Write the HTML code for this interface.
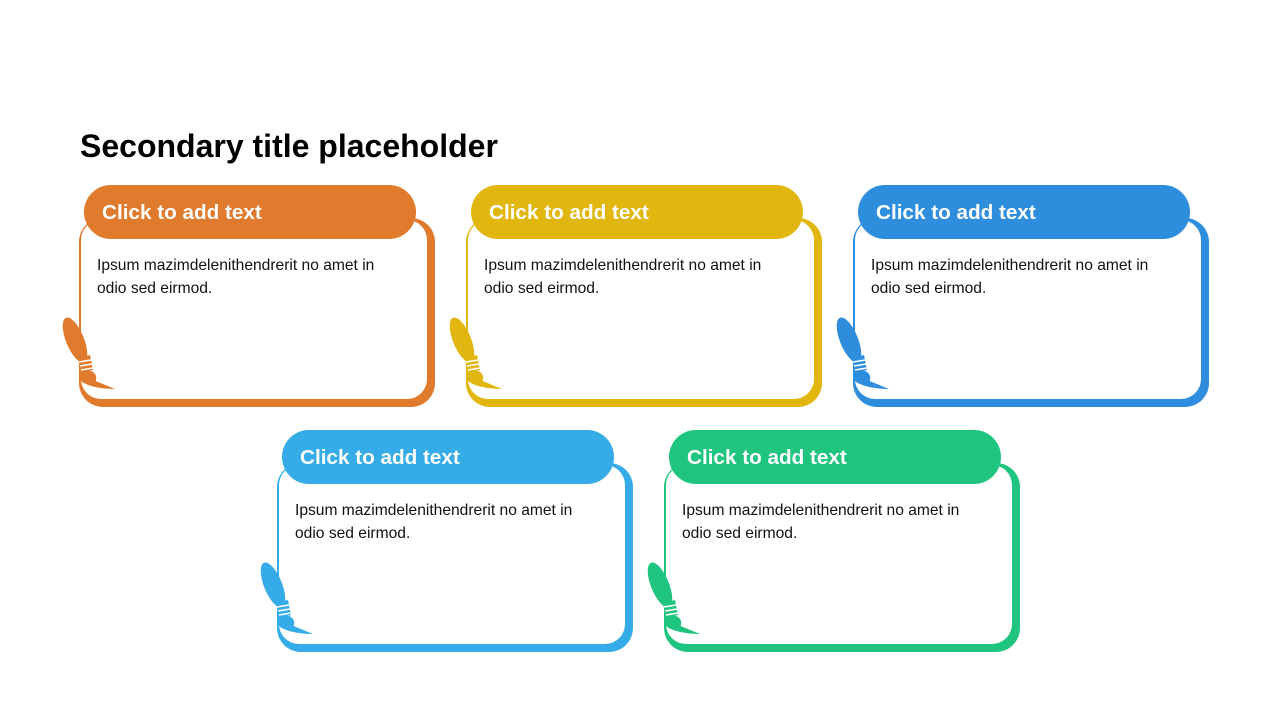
<!DOCTYPE html>
<html><head><style>
body{margin:0;width:1280px;height:720px;background:#fff;position:relative;font-family:"Liberation Sans",Arial,sans-serif;overflow:hidden}
h1{position:absolute;left:80px;top:128px;margin:0;font-size:32px;font-weight:bold;color:#000}
.card{position:absolute;width:356px;height:222px}
.outer{position:absolute;left:0;top:33px;width:356px;height:189px;border-radius:24px}
.inner{position:absolute;left:2px;top:35px;width:346px;height:179px;border-radius:20px;background:#fff}
.hdr{position:absolute;left:5px;top:0;width:332px;height:54px;border-radius:27px;color:#fff;font-weight:bold;font-size:20.7px;line-height:56px;box-sizing:border-box;padding-left:18px}
.body{position:absolute;left:18px;top:69px;font-size:15.6px;line-height:23px;color:#111}
svg{position:absolute;left:-20px;top:130px;overflow:visible}
</style></head><body>
<h1>Secondary title placeholder</h1>

<div class="card" style="left:79px;top:185px;color:#E07A2C">
<div class="outer" style="background:#E07A2C"></div><div class="inner"></div>
<div class="hdr" style="background:#E07A2C">Click to add text</div>
<div class="body">Ipsum mazimdelenithendrerit no amet in<br>odio sed eirmod.</div>
<svg width="60" height="80"><g fill="currentColor"><ellipse cx="16" cy="25" rx="9" ry="24" transform="rotate(-22 16 25)"/><path d="M19 43 L31 40 L34 55 L22 58Z"/><path d="M21 58 C28 54 35 55 37 61 C38 64 35 66 39 67 L56 74 C45 74 33 72 27 69 C21 67 19 62 21 58Z"/></g><g stroke="#fff" stroke-width="1.4"><line x1="20" y1="47" x2="32" y2="45"/><line x1="21" y1="51" x2="33" y2="49"/><line x1="22" y1="55" x2="34" y2="53"/></g></svg>
</div>

<div class="card" style="left:466px;top:185px;color:#E1B70F">
<div class="outer" style="background:#E1B70F"></div><div class="inner"></div>
<div class="hdr" style="background:#E1B70F">Click to add text</div>
<div class="body">Ipsum mazimdelenithendrerit no amet in<br>odio sed eirmod.</div>
<svg width="60" height="80"><g fill="currentColor"><ellipse cx="16" cy="25" rx="9" ry="24" transform="rotate(-22 16 25)"/><path d="M19 43 L31 40 L34 55 L22 58Z"/><path d="M21 58 C28 54 35 55 37 61 C38 64 35 66 39 67 L56 74 C45 74 33 72 27 69 C21 67 19 62 21 58Z"/></g><g stroke="#fff" stroke-width="1.4"><line x1="20" y1="47" x2="32" y2="45"/><line x1="21" y1="51" x2="33" y2="49"/><line x1="22" y1="55" x2="34" y2="53"/></g></svg>
</div>

<div class="card" style="left:853px;top:185px;color:#2E8EDD">
<div class="outer" style="background:#2E8EDD"></div><div class="inner"></div>
<div class="hdr" style="background:#2E8EDD">Click to add text</div>
<div class="body">Ipsum mazimdelenithendrerit no amet in<br>odio sed eirmod.</div>
<svg width="60" height="80"><g fill="currentColor"><ellipse cx="16" cy="25" rx="9" ry="24" transform="rotate(-22 16 25)"/><path d="M19 43 L31 40 L34 55 L22 58Z"/><path d="M21 58 C28 54 35 55 37 61 C38 64 35 66 39 67 L56 74 C45 74 33 72 27 69 C21 67 19 62 21 58Z"/></g><g stroke="#fff" stroke-width="1.4"><line x1="20" y1="47" x2="32" y2="45"/><line x1="21" y1="51" x2="33" y2="49"/><line x1="22" y1="55" x2="34" y2="53"/></g></svg>
</div>

<div class="card" style="left:277px;top:430px;color:#35ACE8">
<div class="outer" style="background:#35ACE8"></div><div class="inner"></div>
<div class="hdr" style="background:#35ACE8">Click to add text</div>
<div class="body">Ipsum mazimdelenithendrerit no amet in<br>odio sed eirmod.</div>
<svg width="60" height="80"><g fill="currentColor"><ellipse cx="16" cy="25" rx="9" ry="24" transform="rotate(-22 16 25)"/><path d="M19 43 L31 40 L34 55 L22 58Z"/><path d="M21 58 C28 54 35 55 37 61 C38 64 35 66 39 67 L56 74 C45 74 33 72 27 69 C21 67 19 62 21 58Z"/></g><g stroke="#fff" stroke-width="1.4"><line x1="20" y1="47" x2="32" y2="45"/><line x1="21" y1="51" x2="33" y2="49"/><line x1="22" y1="55" x2="34" y2="53"/></g></svg>
</div>

<div class="card" style="left:664px;top:430px;color:#1FC47F">
<div class="outer" style="background:#1FC47F"></div><div class="inner"></div>
<div class="hdr" style="background:#1FC47F">Click to add text</div>
<div class="body">Ipsum mazimdelenithendrerit no amet in<br>odio sed eirmod.</div>
<svg width="60" height="80"><g fill="currentColor"><ellipse cx="16" cy="25" rx="9" ry="24" transform="rotate(-22 16 25)"/><path d="M19 43 L31 40 L34 55 L22 58Z"/><path d="M21 58 C28 54 35 55 37 61 C38 64 35 66 39 67 L56 74 C45 74 33 72 27 69 C21 67 19 62 21 58Z"/></g><g stroke="#fff" stroke-width="1.4"><line x1="20" y1="47" x2="32" y2="45"/><line x1="21" y1="51" x2="33" y2="49"/><line x1="22" y1="55" x2="34" y2="53"/></g></svg>
</div>
</body></html>
